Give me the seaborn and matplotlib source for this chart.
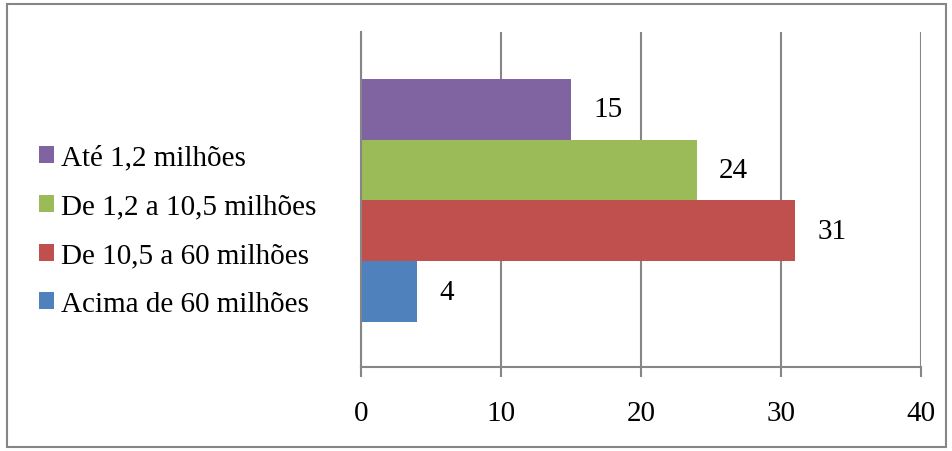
import matplotlib
matplotlib.use('Agg')
import matplotlib.pyplot as plt
import seaborn as sns
from matplotlib.patches import Patch, Rectangle

# Data
categorias = ['Até 1,2 milhões', 'De 1,2 a 10,5 milhões', 'De 10,5 a 60 milhões', 'Acima de 60 milhões']
valores = [15, 24, 31, 4]
cores = ['#8064A2', '#9BBB59', '#C0504D', '#4F81BD']
x_ticks = [0, 10, 20, 30, 40]

sns.set_style('white')
plt.rcParams['font.family'] = ['Liberation Serif', 'DejaVu Serif']
plt.rcParams['text.color'] = 'black'
plt.rcParams['xtick.color'] = 'black'

fig = plt.figure(figsize=(9.52, 4.52), dpi=100)
ax = fig.add_axes([361 / 952, 84 / 452, 560 / 952, 335 / 452])

sns.barplot(x=valores, y=categorias, hue=categorias, palette=cores,
            orient='h', width=1, legend=False, saturation=1, linewidth=0, ax=ax)

# value labels
for c in ax.containers:
    ax.bar_label(c, padding=16, fontsize=21, color='black')

ax.set_xlim(0, 40)
ax.set_ylim(4.24, -1.27)
ax.set_xticks(x_ticks)
ax.set_yticks([])
ax.set_xlabel('')
ax.set_ylabel('')

# grid and spines
grey = '#868686'
ax.grid(False)
for x in x_ticks:
    ax.axvline(x, color=grey, lw=1.5, zorder=0)
for s in ['top', 'right']:
    ax.spines[s].set_visible(False)
for s in ['left', 'bottom']:
    ax.spines[s].set_color(grey)
    ax.spines[s].set_linewidth(1.5)
ax.tick_params(axis='x', bottom=True, direction='out', length=7, width=1.5,
               color=grey, labelcolor='black', labelsize=21, pad=17)

# legend
handles = [Patch(facecolor=c, edgecolor='none') for c in cores]
fig.legend(handles, categorias, loc='center left', bbox_to_anchor=(27 / 952, 1 - 232 / 452),
           frameon=False, fontsize=21, handlelength=0.52, handleheight=0.52,
           handletextpad=0.25, labelspacing=0.78, borderaxespad=0, labelcolor='black')

# chart border
fig.patches.append(Rectangle((7 / 952, 4 / 452), 939 / 952, 443 / 452, transform=fig.transFigure,
                             fill=False, edgecolor=grey, lw=1.5))

fig.savefig('out.png', dpi=100)
